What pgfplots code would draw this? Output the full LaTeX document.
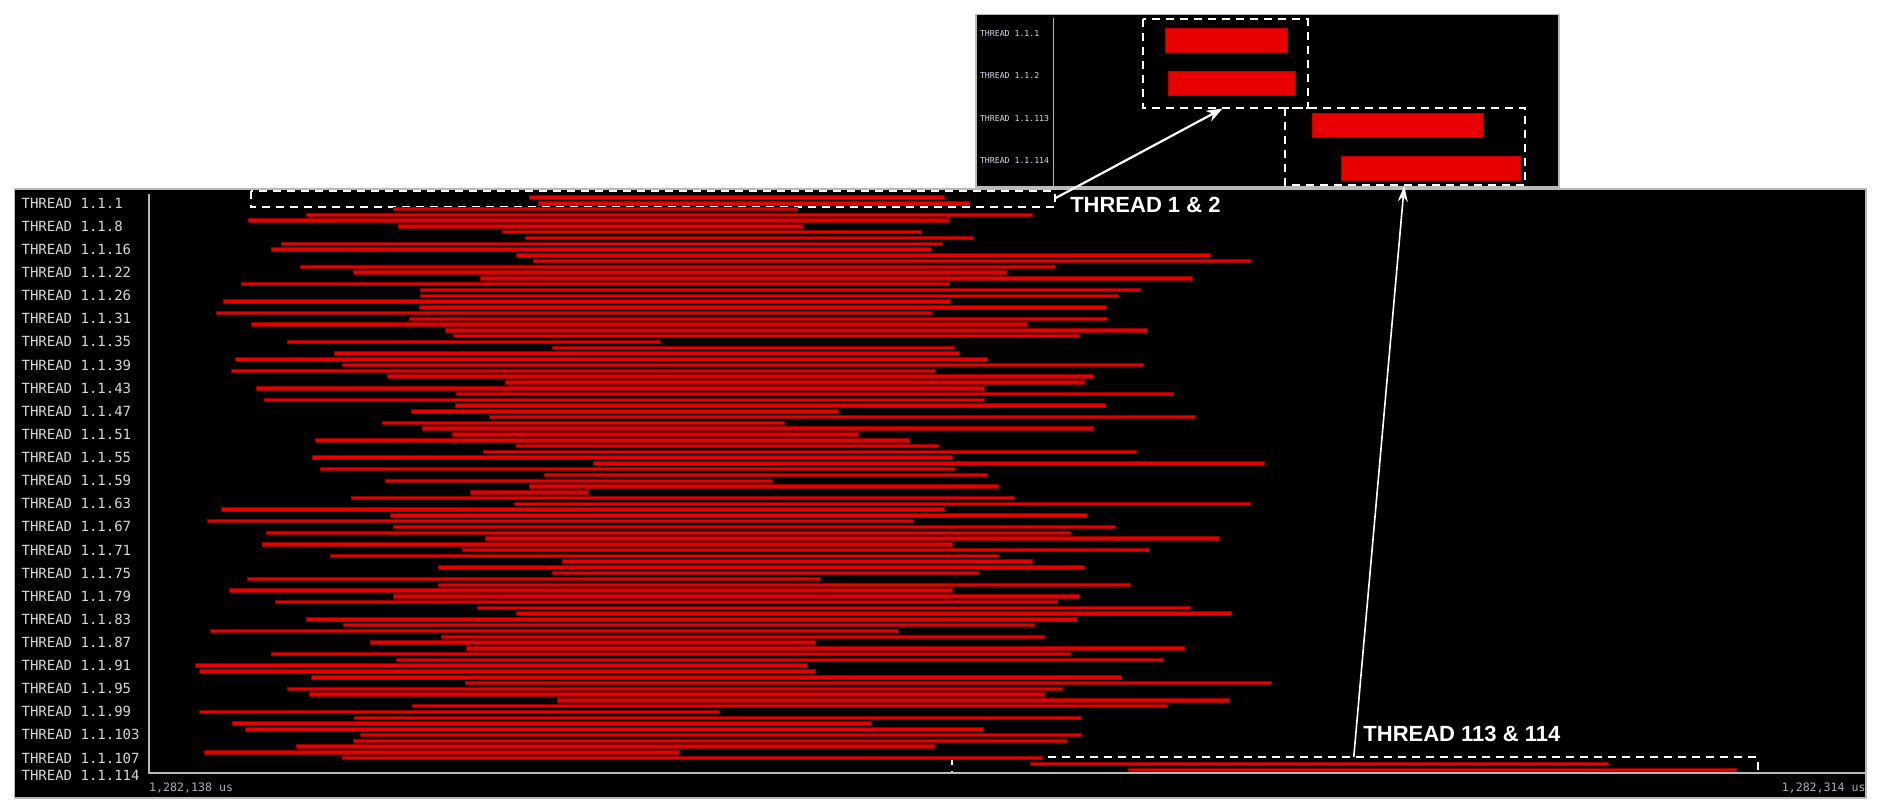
\documentclass[border=0pt]{standalone}
\usepackage{fontspec}
\setmainfont{Liberation Sans}
\newfontfamily\monof{DejaVu Sans Mono}
\usepackage{pgfplots}
\usepackage{pgfplotstable}
\pgfplotsset{compat=1.18}
\usetikzlibrary{arrows.meta}

\definecolor{barred}{RGB}{232,0,0}
\definecolor{bardark}{RGB}{140,0,0}
\definecolor{lblgray}{RGB}{215,215,205}
\definecolor{tickgray}{RGB}{165,175,185}
\definecolor{axgray}{RGB}{185,185,185}
\definecolor{insetlbl}{RGB}{205,218,235}

% start / end in us after 1,282,138 us, one row per thread bar
\pgfplotstableread{
row start end
1 39.0 81.5
2 39.9 84.1
3 25.1 66.5
4 16.1 90.6
5 10.2 82.0
6 25.6 67.1
7 36.2 79.2
8 38.6 84.5
9 13.6 81.3
10 12.6 80.2
11 37.7 108.8
12 39.4 113.0
13 15.5 92.9
14 21.0 87.9
15 34.0 106.9
16 9.5 82.0
17 27.8 101.6
18 27.8 99.4
19 7.6 82.1
20 27.7 98.1
21 6.9 80.3
22 26.7 98.2
23 10.5 90.0
24 30.4 102.3
25 31.2 95.4
26 14.2 52.4
27 41.4 82.6
28 19.0 83.1
29 8.9 85.9
30 19.8 101.9
31 8.5 80.6
32 24.4 96.8
33 36.5 95.9
34 11.0 85.6
35 31.5 105.0
36 11.8 85.6
37 31.4 98.0
38 26.9 70.7
39 34.9 107.3
40 23.9 65.1
41 28.0 96.8
42 31.1 72.7
43 17.1 77.9
44 37.7 80.9
45 34.3 101.2
46 16.8 82.4
47 45.6 114.3
48 17.6 82.7
49 40.5 85.9
50 24.2 63.9
51 39.0 87.1
52 33.0 45.0
53 20.8 88.7
54 37.5 112.9
55 7.4 81.5
56 24.8 96.2
57 6.0 78.4
58 25.1 99.1
59 12.0 94.4
60 34.5 109.7
61 11.6 82.4
62 32.1 102.5
63 18.6 87.1
64 42.4 90.5
65 29.7 95.9
66 41.4 85.1
67 10.1 68.8
68 29.7 100.6
69 8.2 82.4
70 25.1 95.4
71 13.0 93.1
72 33.7 106.7
73 37.7 110.9
74 16.1 95.2
75 19.9 90.8
76 6.3 76.8
77 30.0 91.8
78 22.7 68.3
79 32.5 106.1
80 12.6 94.4
81 25.4 104.0
82 4.8 67.5
83 5.2 68.3
84 16.7 99.7
85 32.4 115.0
86 14.2 93.6
87 16.4 91.8
88 41.9 110.7
89 27.0 104.4
90 5.2 58.5
91 21.1 95.6
92 8.6 74.0
93 9.9 85.5
94 21.7 95.6
95 21.0 94.1
96 15.1 80.5
97 5.7 54.4
98 19.8 91.6
99 90.3 149.6
100 100.4 162.7
}\threads

% threads 1, 2, 113, 114 for the zoomed view
\pgfplotstableread{
row start end
1 39.0 81.5
2 39.9 84.1
3 90.3 149.6
4 100.4 162.7
}\zoomed

\tikzset{
  dashbox/.style={white, line width=1pt, dash pattern=on 4pt off 3pt},
  thrlbl/.style={font=\monof\fontsize{7pt}{8pt}\selectfont, text=lblgray, inner sep=0pt},
  timelbl/.style={font=\monof\fontsize{5.8pt}{7pt}\selectfont, text=tickgray, inner sep=0pt},
  callout/.style={text=white, inner sep=0pt, font=\bfseries\fontsize{11pt}{13pt}\selectfont},
}

\begin{document}
\begin{tikzpicture}
\fill[white] (0,0) rectangle (945pt,-405.5pt);
\useasboundingbox (0,0) rectangle (945pt,-405.5pt);
\filldraw[fill=black, draw=axgray, line width=0.6pt] (7.25pt,-94.5pt) rectangle (933pt,-399pt);
\filldraw[fill=black, draw=axgray, line width=0.6pt] (488pt,-7.25pt) rectangle (779.5pt,-93.5pt);

\begin{axis}[
  at={(74.4pt,-386.5pt)}, anchor=south west,
  scale only axis, width=858.6pt, height=292pt,
  xmin=0, xmax=176, ymin=-0.436, ymax=100.6, y dir=reverse,
  xbar stacked, bar width=0.6,
  axis line style={draw=none}, major tick length=0pt,
  clip=false,
  xtick=\empty,
  ytick={2,6,...,98},
  yticklabels={THREAD 1.1.1, THREAD 1.1.8, THREAD 1.1.16, THREAD 1.1.22,
    THREAD 1.1.26, THREAD 1.1.31, THREAD 1.1.35, THREAD 1.1.39, THREAD 1.1.43,
    THREAD 1.1.47, THREAD 1.1.51, THREAD 1.1.55, THREAD 1.1.59, THREAD 1.1.63,
    THREAD 1.1.67, THREAD 1.1.71, THREAD 1.1.75, THREAD 1.1.79, THREAD 1.1.83,
    THREAD 1.1.87, THREAD 1.1.91, THREAD 1.1.95, THREAD 1.1.99, THREAD 1.1.103,
    THREAD 1.1.107},
  yticklabel style={thrlbl, anchor=west, xshift=-63.8pt},
]
  \addplot[draw=none, fill=none] table[y=row, x=start] {\threads};
  \addplot[fill=barred, draw=bardark, line width=0.3pt]
    table[y=row, x expr=\thisrow{end}-\thisrow{start}] {\threads};

  \draw[axgray, line width=1pt] (axis cs:0,0.43) -- (axis cs:0,100.6) -- (axis cs:176,100.6);
  \node[thrlbl, anchor=west, xshift=-63.8pt] at (axis cs:0,101.07) {THREAD 1.1.114};
  \node[timelbl, anchor=north west, yshift=-4.75pt] at (axis cs:0,100.6) {1,282,138 us};
  \node[timelbl, anchor=north east, yshift=-4.75pt] at (axis cs:176,100.6) {1,282,314 us};

  \draw[dashbox] (axis cs:10.44,-0.09) rectangle (axis cs:92.85,2.73);
  \draw[dashbox] (axis cs:82.3,97.83) rectangle (axis cs:164.9,100.65);
  \node[callout, anchor=west] at (axis cs:94.4,2.28) {THREAD 1 \& 2};
  \node[callout, anchor=west] at (axis cs:124.45,93.8) {THREAD 113 \& 114};
  \coordinate (a1s) at (axis cs:92.9,1.17);
  \coordinate (a2s) at (axis cs:123.5,97.83);
\end{axis}

\begin{axis}[
  at={(526.75pt,-93.5pt)}, anchor=south west,
  scale only axis, width=252.55pt, height=86.25pt,
  xmin=0, xmax=176, ymin=0.394, ymax=4.44, y dir=reverse,
  xbar stacked, bar width=0.56,
  axis line style={draw=none}, major tick length=0pt,
  clip=false,
  xtick=\empty,
  ytick={0.83,1.83,2.83,3.83},
  yticklabels={THREAD 1.1.1, THREAD 1.1.2, THREAD 1.1.113, THREAD 1.1.114},
  yticklabel style={font=\monof\fontsize{4.1pt}{5pt}\selectfont, text=insetlbl,
    inner sep=0pt, anchor=west, xshift=-36.95pt},
]
  \addplot[draw=none, fill=none] table[y=row, x=start] {\zoomed};
  \addplot[fill=barred, draw=barred!80!black, line width=0.3pt]
    table[y=row, x expr=\thisrow{end}-\thisrow{start}] {\zoomed};

  \draw[axgray, line width=0.5pt] (axis cs:0,0.48) -- (axis cs:0,4.44);
  \draw[dashbox] (axis cs:31.2,0.507) rectangle (axis cs:88.5,2.596);
  \draw[dashbox] (axis cs:80.7,2.596) rectangle (axis cs:164.3,4.397);
  \coordinate (a1e) at (axis cs:58.9,2.6);
  \coordinate (a2e) at (axis cs:122.2,4.41);
\end{axis}

\draw[white, line width=1.1pt, -{Stealth[length=8pt, width=6pt]}] (a1s) -- (a1e);
\draw[white, line width=0.8pt, -{Stealth[length=8pt, width=5pt]}] (a2s) -- (a2e);
\end{tikzpicture}
\end{document}
